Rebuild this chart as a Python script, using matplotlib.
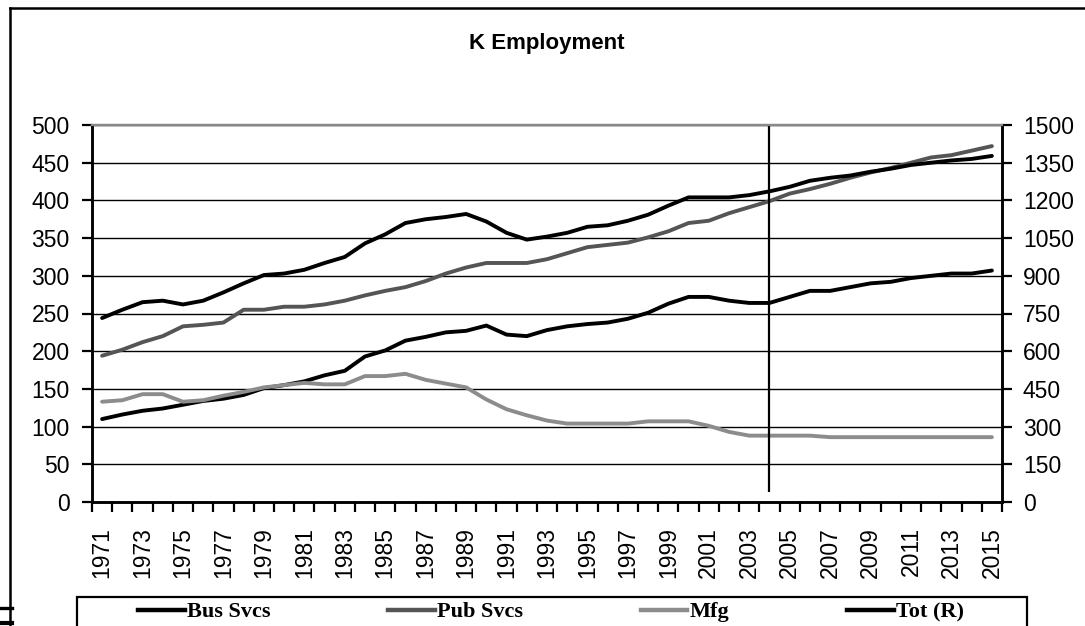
import matplotlib.pyplot as plt
from matplotlib.lines import Line2D
from matplotlib.patches import Rectangle

years = list(range(1971, 2016))

bus_svcs = [110, 116, 121, 124, 129, 134, 137, 142, 151, 155,
            160, 168, 174, 193, 201, 214, 219, 225, 227, 234,
            222, 220, 228, 233, 236, 238, 243, 251, 263, 272,
            272, 267, 264, 264, 272, 280, 280, 285, 290, 292,
            297, 300, 303, 303, 307]

pub_svcs = [194, 202, 212, 220, 233, 235, 238, 255, 255, 259,
            259, 262, 267, 274, 280, 285, 293, 303, 311, 317,
            317, 317, 322, 330, 338, 341, 344, 351, 359, 370,
            373, 383, 391, 399, 409, 415, 422, 430, 437, 443,
            450, 457, 460, 466, 472]

mfg = [133, 135, 143, 143, 133, 135, 141, 146, 152, 155,
       158, 156, 156, 167, 167, 170, 162, 157, 152, 136,
       123, 115, 108, 104, 104, 104, 104, 107, 107, 107,
       101, 93, 88, 88, 88, 88, 86, 86, 86, 86,
       86, 86, 86, 86, 86]

tot_r = [732, 765, 795, 801, 786, 801, 834, 870, 903, 909,
         924, 951, 975, 1029, 1065, 1110, 1125, 1134, 1146, 1116,
         1071, 1044, 1056, 1071, 1095, 1101, 1119, 1143, 1179, 1212,
         1212, 1212, 1221, 1236, 1254, 1278, 1290, 1299, 1314, 1326,
         1341, 1350, 1359, 1365, 1377]

left_ticks = list(range(0, 501, 50))
right_ticks = list(range(0, 1501, 150))
marker_year = 2004

W, H = 1085, 626
fig = plt.figure(figsize=(W / 100, H / 100), dpi=100)
plt.rcParams["font.family"] = ["Liberation Sans", "DejaVu Sans"]

ax = fig.add_axes([92 / W, 1 - 502 / H, 910 / W, 377 / H])
ax2 = ax.twinx()

x = list(range(len(years)))
lw = 2.8
ax.plot(x, bus_svcs, color="black", lw=lw, solid_capstyle="round", zorder=3)
ax.plot(x, pub_svcs, color="#555555", lw=lw, solid_capstyle="round", zorder=3)
ax.plot(x, mfg, color="#8c8c8c", lw=lw, solid_capstyle="round", zorder=3)
ax2.plot(x, tot_r, color="black", lw=lw, solid_capstyle="round", zorder=3)

# marker line at 2004
ax.vlines(years.index(marker_year), 13, 500, color="black", lw=1.6, zorder=4)

ax.set_xlim(-0.5, len(years) - 0.5)
ax.set_ylim(0, 500)
ax2.set_ylim(0, 1500)
ax.set_yticks(left_ticks)
ax2.set_yticks(right_ticks)
ax.grid(axis="y", color="black", lw=1.0)
ax.set_axisbelow(True)

ax.set_xticks(x[::2])
ax.set_xticklabels([str(y) for y in years[::2]], rotation=90)
ax.set_xticks([i - 0.5 for i in range(len(years) + 1)], minor=True)
ax.tick_params(axis="x", which="major", length=0, pad=18, labelsize=16.5)
ax.tick_params(axis="x", which="minor", length=7, width=1.6, direction="out")
ax.tick_params(axis="y", length=7, width=1.6, pad=9, labelsize=16.5)
ax2.tick_params(axis="y", length=7, width=1.6, pad=8, labelsize=16.5)

for a in (ax, ax2):
    for s in a.spines.values():
        s.set_linewidth(1.8)
        s.set_color("black")
    a.spines["top"].set_color("#888888")
    a.spines["top"].set_linewidth(1.6)

fig.text(547 / W, 1 - 43 / H, "K Employment", ha="center", va="center",
         fontsize=16, fontweight="bold")

# legend along the bottom, frame drawn by hand
fig.add_artist(Rectangle((77 / W, -0.01), 950 / W, 1 - 597 / H + 0.01,
                         transform=fig.transFigure, fill=False,
                         edgecolor="black", lw=1.6))
handles = [Line2D([], [], color="black", lw=3.2),
           Line2D([], [], color="#555555", lw=3.2),
           Line2D([], [], color="#8c8c8c", lw=3.2),
           Line2D([], [], color="black", lw=3.2)]
labels = ["Bus Svcs", "Pub Svcs", "Mfg", "Tot (R)"]
fig.legend(handles, labels, ncol=4, loc="center left",
           bbox_to_anchor=(138 / W, 1 - 612 / H),
           prop={"family": "Liberation Serif", "weight": "bold", "size": 16},
           handlelength=2.1, handletextpad=0.1, columnspacing=5.3,
           borderpad=0, borderaxespad=0, frameon=False)

# outer chart frame
frame = dict(color="black", lw=1.8, transform=fig.transFigure)
fig.add_artist(Line2D([9.5 / W, 9.5 / W], [1 - 8 / H, 0], **frame))
fig.add_artist(Line2D([9.5 / W, 1.0], [1 - 8 / H, 1 - 8 / H], **frame))
fig.add_artist(Line2D([0, 12 / W], [1 - 608 / H, 1 - 608 / H],
                      color="black", lw=2.4, transform=fig.transFigure))
fig.add_artist(Line2D([0, 12 / W], [1 - 623 / H, 1 - 623 / H],
                      color="black", lw=3, transform=fig.transFigure))

fig.savefig("out.png", dpi=100)
